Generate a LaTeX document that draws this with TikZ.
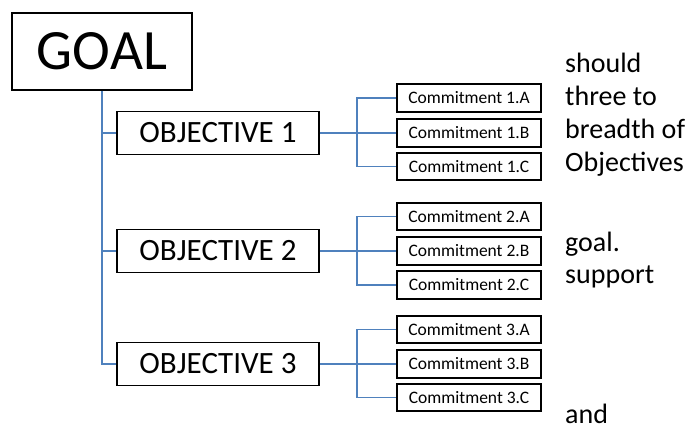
\documentclass[tikz,border=0pt]{standalone}
\usepackage{fontspec}
\setmainfont{Carlito}
\definecolor{linkblue}{HTML}{4F81BD}
\begin{document}
\begin{tikzpicture}[x=1pt,y=-1pt,
  box/.style={draw=black,line width=1.6pt,fill=white,inner sep=0pt},
  goalbox/.style={box,minimum width=180pt,minimum height=77pt,font=\fontsize{57}{60}\selectfont},
  objbox/.style={box,minimum width=202pt,minimum height=43pt,font=\fontsize{31}{34}\selectfont},
  combox/.style={box,minimum width=144pt,minimum height=27.5pt,font=\fontsize{17.5}{19}\selectfont},
  link/.style={draw=linkblue,line width=1.6pt},
  side/.style={anchor=base west,inner sep=0pt,font=\fontsize{28}{30}\selectfont}]
\useasboundingbox (0,0) rectangle (694,430);
\node[goalbox] (goal) at (102,51.5) {GOAL};
\node[objbox] (o1) at (218,133) {OBJECTIVE 1};
\node[objbox] (o2) at (218,251) {OBJECTIVE 2};
\node[objbox] (o3) at (218,364) {OBJECTIVE 3};
\node[combox] (c1a) at (469,98) {Commitment 1.A};
\node[combox] (c1b) at (469,133) {Commitment 1.B};
\node[combox] (c1c) at (469,166.5) {Commitment 1.C};
\node[combox] (c2a) at (469,216.5) {Commitment 2.A};
\node[combox] (c2b) at (469,251) {Commitment 2.B};
\node[combox] (c2c) at (469,285) {Commitment 2.C};
\node[combox] (c3a) at (469,329.5) {Commitment 3.A};
\node[combox] (c3b) at (469,364) {Commitment 3.B};
\node[combox] (c3c) at (469,397.5) {Commitment 3.C};
\coordinate (j1) at (357,133);
\coordinate (j2) at (357,251);
\coordinate (j3) at (357,364);
\draw[link] (goal.south) |- (o1.west);
\draw[link] (goal.south) |- (o2.west);
\draw[link] (goal.south) |- (o3.west);
\draw[link] (o1.east) -- (c1b.west);
\draw[link] (c1a.west) -| (j1) |- (c1c.west);
\draw[link] (o2.east) -- (c2b.west);
\draw[link] (c2a.west) -| (j2) |- (c2c.west);
\draw[link] (o3.east) -- (c3b.west);
\draw[link] (c3a.west) -| (j3) |- (c3c.west);
\node[side] (t1) at (565,73) {should};
\node[side] (t2) at (565,106) {three to};
\node[side] (t3) at (565,139) {breadth of};
\node[side] (t4) at (565,172) {Objectives};
\node[side] (t5) at (565,252) {goal.};
\node[side] (t6) at (565,284) {support};
\node[side] (t7) at (565,424) {and};
\end{tikzpicture}
\end{document}
